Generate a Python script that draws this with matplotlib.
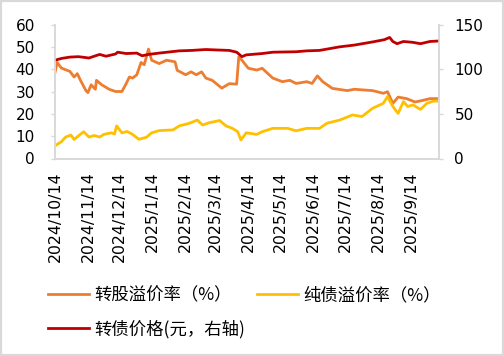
import numpy as np
import pandas as pd
import matplotlib
matplotlib.use("Agg")
import matplotlib.pyplot as plt
import matplotlib.dates as mdates
from matplotlib.patches import Rectangle

plt.rcParams['font.family'] = ['Noto Sans CJK SC', 'DejaVu Sans']

#---------------------------------------------------------- data
red_dates = ["2024-10-14", "2024-10-20", "2024-10-28", "2024-11-05", "2024-11-15", "2024-11-25",
             "2024-12-01", "2024-12-10", "2024-12-12", "2024-12-20", "2024-12-30", "2025-01-04",
             "2025-01-10", "2025-01-20", "2025-02-08", "2025-02-20", "2025-03-05", "2025-03-15",
             "2025-03-27", "2025-04-03", "2025-04-08", "2025-04-12", "2025-04-27", "2025-05-07",
             "2025-05-29", "2025-06-08", "2025-06-20", "2025-07-09", "2025-07-23", "2025-08-09",
             "2025-08-20", "2025-08-25", "2025-08-28", "2025-09-01", "2025-09-07", "2025-09-16",
             "2025-09-23", "2025-10-02", "2025-10-10"]
cb_price = [110, 112, 113.5, 114, 112.5, 116.5,
            114.5, 117, 119, 117.5, 118, 115,
            116.5, 118, 120.5, 121, 122, 121.5,
            121, 119, 114, 116, 117.5, 119,
            119.5, 120.5, 121, 125, 127, 130.5,
            133, 135.5, 131, 128.5, 131, 130,
            128.5, 131, 131.5]

orange_dates = ["2024-10-14", "2024-10-16", "2024-10-20", "2024-10-28", "2024-11-01", "2024-11-04",
                "2024-11-07", "2024-11-12", "2024-11-14", "2024-11-17", "2024-11-21", "2024-11-22",
                "2024-11-27", "2024-12-04", "2024-12-10", "2024-12-16", "2024-12-20", "2024-12-23",
                "2024-12-26", "2024-12-30", "2025-01-03", "2025-01-06", "2025-01-10", "2025-01-13",
                "2025-01-20", "2025-01-27", "2025-02-04", "2025-02-06", "2025-02-14", "2025-02-19",
                "2025-02-24", "2025-03-01", "2025-03-05", "2025-03-11", "2025-03-20", "2025-03-27",
                "2025-04-03", "2025-04-05", "2025-04-08", "2025-04-14", "2025-04-22", "2025-04-27",
                "2025-05-07", "2025-05-16", "2025-05-23", "2025-05-29", "2025-06-08", "2025-06-13",
                "2025-06-18", "2025-06-23", "2025-07-02", "2025-07-16", "2025-07-23", "2025-07-31",
                "2025-08-09", "2025-08-19", "2025-08-23", "2025-08-28", "2025-09-02", "2025-09-10",
                "2025-09-18", "2025-09-25", "2025-10-02", "2025-10-10"]
conv_premium = [38.5, 43, 40.5, 39, 36.5, 38,
                35, 30.5, 29.5, 33, 31, 35,
                33, 31, 30, 30, 33.5, 36.5,
                36, 37.5, 43, 42, 49, 44,
                42.5, 44, 43.3, 39.5, 37.5, 38.8,
                37.5, 38.8, 36, 35, 31.5, 33.5,
                33.3, 45.5, 44, 40.4, 39.6, 40.4,
                36, 34.4, 35, 33.6, 34.4, 33.6,
                37, 34.4, 31.4, 30.4, 31, 30.7,
                30.4, 29.2, 29.9, 24.7, 27.5, 26.8,
                25.3, 26, 26.8, 26.8]

yellow_dates = ["2024-10-14", "2024-10-20", "2024-10-24", "2024-10-29", "2024-11-01", "2024-11-05",
                "2024-11-10", "2024-11-15", "2024-11-20", "2024-11-25", "2024-11-29", "2024-12-06",
                "2024-12-09", "2024-12-11", "2024-12-16", "2024-12-21", "2024-12-26", "2025-01-01",
                "2025-01-08", "2025-01-13", "2025-01-20", "2025-02-02", "2025-02-08", "2025-02-17",
                "2025-02-25", "2025-03-02", "2025-03-08", "2025-03-18", "2025-03-24", "2025-03-30",
                "2025-04-04", "2025-04-07", "2025-04-12", "2025-04-22", "2025-04-27", "2025-05-07",
                "2025-05-21", "2025-05-29", "2025-06-08", "2025-06-20", "2025-06-27", "2025-07-09",
                "2025-07-21", "2025-07-30", "2025-08-09", "2025-08-19", "2025-08-23", "2025-08-28",
                "2025-09-02", "2025-09-07", "2025-09-11", "2025-09-16", "2025-09-23", "2025-09-29",
                "2025-10-05", "2025-10-10"]
bond_premium = [5.7, 7.5, 9.6, 10.5, 8.5, 10.1,
                12, 9.6, 10.3, 9.6, 10.8, 11.5,
                11, 14.6, 11.5, 12.1, 10.8, 8.6,
                9.5, 11.5, 12.5, 12.8, 14.6, 15.7,
                17.2, 15, 16, 17, 14.6, 13.5,
                12, 8.3, 11.5, 10.8, 12, 13.5,
                13.5, 12.4, 13.5, 13.5, 15.8, 17.2,
                19.5, 18.8, 22.5, 24.7, 27.7, 23.3,
                20.2, 25.5, 23.3, 24, 22, 24.7,
                25.7, 25.7]

tick_dates = ["2024-10-14", "2024-11-14", "2024-12-14", "2025-01-14", "2025-02-14", "2025-03-14",
              "2025-04-14", "2025-05-14", "2025-06-14", "2025-07-14", "2025-08-14", "2025-09-14"]

#---------------------------------------------------------- plotting
grey = "#d9d9d9"
fig = plt.figure(figsize=(5.04, 3.56), dpi=100)
ax = fig.add_axes([55/504, (356-158.5)/356, (438.5-55)/504, 134/356])
ax2 = ax.twinx()

l1, = ax.plot(pd.to_datetime(orange_dates), conv_premium, c="#ED7D31", lw=2.0, label="转股溢价率（%）")
l2, = ax.plot(pd.to_datetime(yellow_dates), bond_premium, c="#FFC000", lw=2.0, label="纯债溢价率（%）")
l3, = ax2.plot(pd.to_datetime(red_dates), cb_price, c="#C00000", lw=2.0, label="转债价格(元，右轴)")

ax.set_xlim(pd.Timestamp("2024-10-14"), pd.Timestamp("2025-10-10"))
ax.set_ylim(0, 60)
ax2.set_ylim(0, 150)
ax.set_yticks(np.arange(0, 61, 10))
ax2.set_yticks([0, 50, 100, 150])
ax.set_xticks(pd.to_datetime(tick_dates))
ax.xaxis.set_major_formatter(mdates.DateFormatter("%Y/%-m/%-d"))
ax.tick_params(axis="x", rotation=90, length=0, pad=9, colors="black")
ax.tick_params(axis="y", length=3, width=1, color=grey, pad=11.5)
ax2.tick_params(axis="y", length=3, width=1, color=grey, pad=8.5)
for lab in ax.get_xticklabels():
    lab.set_fontfamily("DejaVu Sans")
    lab.set_fontsize(11.3)
for lab in ax.get_yticklabels() + ax2.get_yticklabels():
    lab.set_fontfamily("DejaVu Sans")
    lab.set_fontsize(11)

for a in (ax, ax2):
    a.spines["top"].set_visible(False)
    for s in ("left", "right", "bottom"):
        a.spines[s].set_color(grey)
        a.spines[s].set_linewidth(1.2)

fig.legend(handles=[l1, l3, l2], ncol=2, loc="upper left", bbox_to_anchor=(48/504, 1-286/356),
           frameon=False, fontsize=12.5, handlelength=2.35, handletextpad=0.3,
           columnspacing=0.7, labelspacing=0.9, borderpad=0, borderaxespad=0)

fig.add_artist(Rectangle((0, 0), 1, 1, transform=fig.transFigure, fill=False,
                         edgecolor=grey, lw=3, clip_on=False))

fig.savefig("out.png", dpi=100)
